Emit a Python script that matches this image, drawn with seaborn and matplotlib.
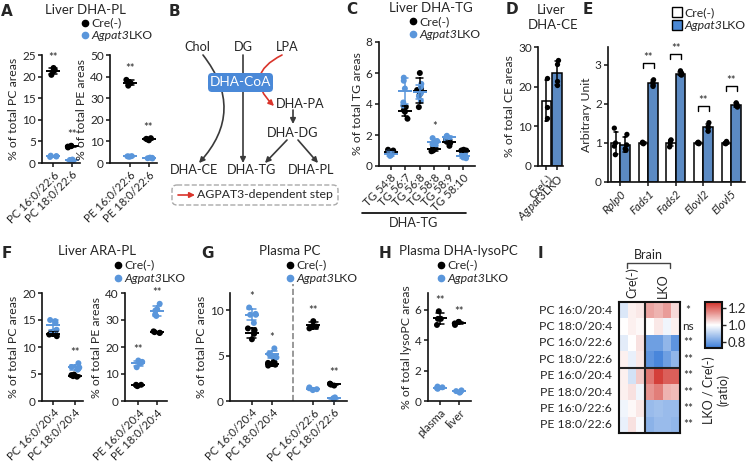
import numpy as np
import pandas as pd
import matplotlib
matplotlib.use('Agg')
import matplotlib.pyplot as plt
from matplotlib.lines import Line2D
from matplotlib.patches import Rectangle, FancyBboxPatch, FancyArrowPatch
from matplotlib.colors import LinearSegmentedColormap
import seaborn as sns
import warnings

warnings.filterwarnings("ignore")

sns.set_style('ticks')
plt.rcParams['font.family'] = ['Lato', 'DejaVu Sans']
plt.rcParams['mathtext.fontset'] = 'custom'
plt.rcParams['mathtext.rm'] = 'Lato'
plt.rcParams['mathtext.it'] = 'Lato:italic'
plt.rcParams['font.size'] = 8
plt.rcParams['axes.linewidth'] = 1.2
plt.rcParams['axes.edgecolor'] = '#111111'
plt.rcParams['xtick.major.width'] = 1.2
plt.rcParams['ytick.major.width'] = 1.2
plt.rcParams['xtick.major.size'] = 3
plt.rcParams['ytick.major.size'] = 3
plt.rcParams['xtick.major.pad'] = 1.5
plt.rcParams['ytick.major.pad'] = 1.5
plt.rcParams['xtick.labelsize'] = 8.2
plt.rcParams['ytick.labelsize'] = 8.5
plt.rcParams['axes.labelsize'] = 8.8
np.random.seed(3)

BLUE = '#5A96DB'
BAR_BLUE = '#4A88D4'
GROUPS = ['Cre(-)', 'Agpat3LKO']
GROUP_TEXT = ['Cre(-)', r'$\mathit{Agpat3}$LKO']
TITLE_FS = 9.5
LEG_FS = 8.8

# A: liver DHA-PL
a_pc_labels = ['PC 16:0/22:6', 'PC 18:0/22:6']
a_pc_cre = [[22.0, 21.5, 20.4, 21.2], [3.6, 4.0, 3.8, 3.9]]
a_pc_lko = [[1.5, 1.6, 1.4, 1.7], [0.5, 0.7, 0.6, 0.8]]
a_pc_stars = ['**', '**']
a_pe_labels = ['PE 16:0/22:6', 'PE 18:0/22:6']
a_pe_cre = [[38.5, 37.0, 35.8, 37.4], [10.5, 11.5, 11.0, 11.2]]
a_pe_lko = [[3.0, 3.2, 2.9, 3.1], [2.2, 2.4, 2.1, 2.5]]
a_pe_stars = ['**', '**']

# C: liver DHA-TG
c_labels = ['TG 54:8', 'TG 56:7', 'TG 56:8', 'TG 58:8', 'TG 58:9', 'TG 58:10']
c_cre = [[1.0, 0.9, 0.8, 1.05, 0.85], [3.9, 3.6, 3.5, 3.05, 3.8], [6.0, 4.9, 4.6, 3.8, 5.0],
         [1.2, 1.1, 1.0, 1.1, 0.95], [1.5, 1.6, 1.3, 1.7, 1.6], [1.0, 1.0, 0.95, 1.05, 0.9]]
c_lko = [[0.7, 0.8, 0.9, 0.65, 0.85], [5.7, 5.5, 5.0, 4.1, 3.9], [5.3, 5.1, 4.7, 4.5, 4.2],
         [1.8, 1.6, 1.4, 1.3, 1.5], [1.95, 1.9, 1.7, 1.85, 1.8], [0.7, 0.5, 0.6, 0.8, 0.55]]
c_stars = ['', '', '', '*', '', '']

# D: liver DHA-CE
d_cre = [22.3, 14.9, 12.2]
d_lko = [26.6, 25.6, 21.4, 20.4]

# E: gene expression
e_genes = ['Rplp0', 'Fads1', 'Fads2', 'Elovl2', 'Elovl5']
e_cre = [[1.38, 0.92, 0.70, 1.0], [1.02, 0.98, 1.0, 1.0], [1.08, 1.05, 0.9, 0.98],
         [1.0, 1.0, 1.02, 0.98], [1.04, 0.98, 1.0, 0.99]]
e_lko = [[1.22, 0.95, 0.82, 0.85], [2.62, 2.5, 2.45, 2.55], [2.85, 2.75, 2.78, 2.74],
         [1.52, 1.38, 1.30, 1.42], [2.03, 1.98, 1.92, 1.95]]
e_stars = ['', '**', '**', '**', '**']

# F: liver ARA-PL
f_pc_labels = ['PC 16:0/20:4', 'PC 18:0/20:4']
f_pc_cre = [[12.3, 12.0, 12.6, 13.0], [4.5, 4.8, 4.6, 4.9]]
f_pc_lko = [[15.0, 14.8, 13.2, 14.5, 12.8], [7.0, 6.3, 6.0, 5.8, 6.2]]
f_pc_stars = ['', '**']
f_pe_labels = ['PE 16:0/20:4', 'PE 18:0/20:4']
f_pe_cre = [[5.5, 6.0, 5.8, 6.0], [25.3, 25.8, 25.5, 25.2]]
f_pe_lko = [[14.5, 14.0, 15.0, 12.5, 14.2], [36.0, 33.5, 32.0, 31.5, 34.0]]
f_pe_stars = ['**', '**']

# G: plasma PC
g_labels = ['PC 16:0/20:4', 'PC 18:0/20:4', 'PC 16:0/22:6', 'PC 18:0/22:6']
g_cre = [[8.0, 7.8, 6.8, 7.4], [4.4, 4.0, 4.2, 3.9], [8.8, 8.2, 8.0, 8.3], [1.9, 1.7, 1.9, 1.8]]
g_lko = [[10.3, 9.5, 8.6, 9.5, 9.6], [5.8, 5.0, 4.9, 5.2, 4.8], [1.4, 1.3, 1.2, 1.5], [0.3, 0.2, 0.3, 0.4]]
g_stars = ['*', '*', '**', '**']

# H: plasma DHA-lysoPC
h_labels = ['plasma', 'liver']
h_cre = [[5.9, 5.4, 5.0, 5.4], [5.2, 5.1, 5.0, 5.2]]
h_lko = [[0.9, 0.85, 0.95, 0.8], [0.65, 0.6, 0.7, 0.55]]
h_stars = ['**', '**']

# I: brain heatmap (LKO / Cre ratio)
i_rows = ['PC 16:0/20:4', 'PC 18:0/20:4', 'PC 16:0/22:6', 'PC 18:0/22:6',
          'PE 16:0/20:4', 'PE 18:0/20:4', 'PE 16:0/22:6', 'PE 18:0/22:6']
i_ratio = [[0.95, 1.02, 1.03, 1.12, 1.10, 1.13, 1.05],
           [1.00, 1.02, 1.01, 1.00, 1.03, 0.98, 1.02],
           [0.96, 1.00, 1.04, 0.80, 0.80, 0.85, 0.78],
           [1.02, 0.97, 1.03, 0.78, 0.75, 0.80, 0.85],
           [1.02, 0.94, 1.07, 1.18, 1.25, 1.21, 1.21],
           [1.02, 1.04, 0.98, 1.14, 1.17, 1.10, 1.09],
           [0.98, 1.01, 1.03, 0.86, 0.87, 0.86, 0.86],
           [0.97, 1.04, 0.99, 0.84, 0.86, 0.86, 0.85]]
i_sig = ['*', 'ns', '**', '**', '**', '**', '**', '**']

W, H = 748, 465
fig = plt.figure(figsize=(W / 100, H / 100), dpi=100)
renderer = fig.canvas.get_renderer()


def box(l, t, r, b):
    return [l / W, 1 - b / H, (r - l) / W, (b - t) / H]


def ftext(x, y, s, **kw):
    return fig.text(x / W, 1 - y / H, s, **kw)


def fline(xs, ys, **kw):
    fig.add_artist(Line2D([x / W for x in xs], [1 - y / H for y in ys], **kw))


def group_label(x, y, idx, fs):
    # "Agpat3" in italics followed by upright "LKO"
    if idx == 0:
        ftext(x, y, GROUPS[0], ha='left', va='center', fontsize=fs)
        return
    t = ftext(x, y, 'Agpat3', ha='left', va='center', fontsize=fs, fontstyle='italic')
    w = t.get_window_extent(renderer).width
    ftext(x + w + 0.3, y, 'LKO', ha='left', va='center', fontsize=fs)


def long_table(cre, lko, pos):
    rows = []
    for i in range(len(cre)):
        for v in cre[i]:
            rows.append((pos[i], GROUPS[0], v))
        for v in lko[i]:
            rows.append((pos[i], GROUPS[1], v))
    return pd.DataFrame(rows, columns=['pos', 'group', 'value'])


def dot_panel(rect, labels, cre, lko, ylim, yticks, xlim, ylabel, stars, pos=None):
    ax = fig.add_axes(box(*rect))
    if pos is None:
        pos = list(range(len(labels)))
    df = long_table(cre, lko, pos)
    pal = {GROUPS[0]: 'black', GROUPS[1]: BLUE}
    sns.stripplot(data=df, x='pos', y='value', hue='group', hue_order=GROUPS, palette=pal,
                  native_scale=True, jitter=0.22, size=4.3, linewidth=0, ax=ax,
                  legend=False, clip_on=False, zorder=2)
    sns.pointplot(data=df, x='pos', y='value', hue='group', hue_order=GROUPS, palette=pal,
                  native_scale=True, errorbar='sd', markers='_', linestyles='none',
                  capsize=0.45, err_kws={'linewidth': 1.1}, markersize=10,
                  markeredgewidth=1.4, ax=ax, legend=False)
    sns.despine(ax=ax)
    ax.set_ylim(*ylim)
    ax.set_yticks(yticks)
    ax.set_xlim(*xlim)
    ax.set_xticks(pos)
    ax.set_xticklabels(labels, rotation=45, ha='right', rotation_mode='anchor')
    ax.set_xlabel('')
    ax.set_ylabel(ylabel, labelpad=2)
    for i, s in enumerate(stars):
        if s:
            top = max(cre[i] + lko[i])
            ax.text(pos[i], top + 0.05 * ylim[1], s, ha='center', va='bottom', fontsize=8)
    return ax


def dot_legend(mx, y1, y2):
    for idx, (c, y) in enumerate(zip(['black', BLUE], [y1, y2])):
        fig.add_artist(Line2D([mx / W], [1 - y / H], ls='none', marker='o', ms=4.5, color=c))
        group_label(mx + 6, y, idx, LEG_FS)


# ---------- A ----------
dot_panel((42, 55, 80, 163), a_pc_labels, a_pc_cre, a_pc_lko, (0, 25), [0, 5, 10, 15, 20, 25],
          (-0.6, 1.45), '% of total PC areas', a_pc_stars)
dot_panel((110, 55, 157, 163), a_pe_labels, a_pe_cre, a_pe_lko, (0, 50), [0, 10, 20, 30, 40, 50],
          (-1.1, 1.46), '% of total PE areas', a_pe_stars)
ftext(85, 10.5, 'Liver DHA-PL', ha='center', va='center', fontsize=TITLE_FS)
dot_legend(85, 23, 35.5)

# ---------- B (schematic) ----------
axB = fig.add_axes(box(170, 30, 345, 212))
axB.set_xlim(170, 345)
axB.set_ylim(212, 30)
axB.axis('off')
dark = '#3a3a3a'
red = '#D9342B'


def arrow(p0, p1, color=dark, rad=0.0):
    axB.add_patch(FancyArrowPatch(p0, p1, arrowstyle='-|>', mutation_scale=8, lw=1.2,
                                  color=color, connectionstyle=f'arc3,rad={rad}',
                                  shrinkA=0, shrinkB=0, zorder=1))


for name, (x, y) in {'Chol': (197, 47), 'DG': (243, 47), 'LPA': (287, 47),
                     'DHA-PA': (300, 104), 'DHA-DG': (293, 133), 'DHA-CE': (194, 170),
                     'DHA-TG': (252, 170), 'DHA-PL': (311, 170)}.items():
    axB.text(x, y, name, ha='center', va='center', fontsize=9.2)
arrow((203, 55), (199, 163), rad=-0.42)
arrow((243, 55), (243, 163))
arrow((282, 55), (274, 106), color=red, rad=0.7)
arrow((293, 110), (293, 124))
arrow((287, 140), (265, 163))
arrow((298, 140), (318, 163))
axB.add_patch(FancyBboxPatch((208, 73), 65, 19, boxstyle='round,pad=0,rounding_size=4',
                             fc='#4A89D8', ec='none', zorder=3))
axB.text(240.5, 82.5, 'DHA-CoA', color='white', ha='center', va='center', fontsize=9.8, zorder=4)
axB.add_patch(FancyBboxPatch((172, 185), 166, 20, boxstyle='round,pad=0,rounding_size=5',
                             fc='none', ec='#aaaaaa', ls='--', lw=1))
arrow((178, 195), (195, 195), color=red)
axB.text(197, 195, 'AGPAT3-dependent step', ha='left', va='center', fontsize=8.8)

# ---------- C ----------
dot_panel((379, 42, 475, 166), c_labels, c_cre, c_lko, (0, 8), [0, 2, 4, 6, 8],
          (-0.8, 5.8), '% of total TG areas', c_stars)
ftext(431, 8.5, 'Liver DHA-TG', ha='center', va='center', fontsize=TITLE_FS)
dot_legend(413, 21.5, 34)
fline([362, 466], [213, 213], color='black', lw=1.2)
ftext(414, 223, 'DHA-TG', ha='center', va='center', fontsize=9.2)

# ---------- D ----------
axD = fig.add_axes(box(538, 47, 563, 166))
dfD = pd.DataFrame({'group': [GROUPS[0]] * len(d_cre) + [GROUPS[1]] * len(d_lko),
                    'value': d_cre + d_lko})
sns.barplot(data=dfD, x='group', y='value', hue='group', order=GROUPS, hue_order=GROUPS,
            palette={GROUPS[0]: 'white', GROUPS[1]: BAR_BLUE}, edgecolor='black', linewidth=1.1,
            errorbar='sd', capsize=0.35, err_kws={'color': 'black', 'linewidth': 1.1},
            width=0.9, ax=axD, legend=False)
sns.stripplot(data=dfD, x='group', y='value', order=GROUPS, color='black', size=3.8,
              jitter=0.1, linewidth=0, ax=axD, zorder=3)
sns.despine(ax=axD)
axD.set_ylim(0, 30)
axD.set_yticks([0, 10, 20, 30])
axD.set_xlim(-0.8, 1.57)
axD.set_xticks([0, 1])
axD.set_xticklabels(GROUP_TEXT, rotation=45, ha='right', rotation_mode='anchor')
axD.set_xlabel('')
axD.set_ylabel('% of total CE areas', labelpad=2)
ftext(551, 10, 'Liver', ha='center', va='center', fontsize=TITLE_FS)
ftext(553, 25, 'DHA-CE', ha='center', va='center', fontsize=TITLE_FS)

# ---------- E ----------
axE = fig.add_axes(box(608, 47, 745, 182))
rows = []
for i, g in enumerate(e_genes):
    rows += [(g, GROUPS[0], v) for v in e_cre[i]] + [(g, GROUPS[1], v) for v in e_lko[i]]
dfE = pd.DataFrame(rows, columns=['gene', 'group', 'value'])
sns.barplot(data=dfE, x='gene', y='value', hue='group', order=e_genes, hue_order=GROUPS,
            palette={GROUPS[0]: 'white', GROUPS[1]: BAR_BLUE}, edgecolor='black', linewidth=1.1,
            errorbar='sd', capsize=0.3, err_kws={'color': 'black', 'linewidth': 1.1},
            width=0.68, ax=axE, legend=False)
sns.stripplot(data=dfE, x='gene', y='value', hue='group', order=e_genes, hue_order=GROUPS,
              palette={GROUPS[0]: 'black', GROUPS[1]: 'black'}, dodge=True, jitter=0.07,
              size=3.8, linewidth=0, ax=axE, legend=False, zorder=3)
sns.despine(ax=axE)
axE.set_ylim(0, 3.46)
axE.set_yticks([0, 1, 2, 3])
axE.set_xlim(-0.45, 4.5)
axE.set_xticks(range(len(e_genes)))
axE.set_xticklabels(e_genes, rotation=45, ha='right', rotation_mode='anchor', fontstyle='italic')
axE.set_xlabel('')
axE.set_ylabel('Arbitrary Unit', labelpad=2)
for i, s in enumerate(e_stars):
    if s:
        top = max(e_cre[i] + e_lko[i]) + 0.42
        axE.plot([i - 0.2, i - 0.2, i + 0.2, i + 0.2], [top - 0.13, top, top, top - 0.13],
                 color='black', lw=1)
        axE.text(i, top + 0.02, s, ha='center', va='bottom', fontsize=8)
for idx, (fc, y) in enumerate(zip(['white', BAR_BLUE], [12.5, 25.5])):
    fig.add_artist(Rectangle((672 / W, 1 - (y + 5) / H), 10 / W, 10 / H, fc=fc, ec='black',
                             lw=1, transform=fig.transFigure))
    group_label(684, y, idx, LEG_FS)

# ---------- F ----------
dot_panel((42, 293, 83, 401), f_pc_labels, f_pc_cre, f_pc_lko, (0, 20), [0, 5, 10, 15, 20],
          (-0.53, 1.38), '% of total PC areas', f_pc_stars)
dot_panel((125, 293, 167, 401), f_pe_labels, f_pe_cre, f_pe_lko, (0, 40), [0, 10, 20, 30, 40],
          (-0.73, 1.55), '% of total PE areas', f_pe_stars)
ftext(97, 251, 'Liver ARA-PL', ha='center', va='center', fontsize=TITLE_FS)
dot_legend(118, 265, 278)

# ---------- G ----------
axG = dot_panel((230, 293, 347, 401), g_labels, g_cre, g_lko, (0, 11.9), [0, 5, 10],
                (-1.05, 4.64), '% of total PC areas', g_stars, pos=[0, 1, 3, 4])
axG.axvline(2, ymax=1.08, color='#888888', ls='--', lw=1.2, clip_on=False)
ftext(290, 251, 'Plasma PC', ha='center', va='center', fontsize=TITLE_FS)
dot_legend(290, 265, 278)

# ---------- H ----------
dot_panel((428, 293, 471, 401), h_labels, h_cre, h_lko, (0, 7.1), [0, 2, 4, 6],
          (-0.62, 1.63), '% of total lysoPC areas', h_stars)
ftext(458, 251, 'Plasma DHA-lysoPC', ha='center', va='center', fontsize=TITLE_FS)
dot_legend(441, 265, 278)

# ---------- I ----------
axI = fig.add_axes(box(619, 302, 680, 433))
cax = fig.add_axes(box(705, 302, 722, 348))
cmap = LinearSegmentedColormap.from_list('ratio', ['#3B7DD8', '#FFFFFF', '#D1322B'])
sns.heatmap(np.array(i_ratio), ax=axI, cbar_ax=cax, cmap=cmap, vmin=0.73, vmax=1.27, center=1.0,
            xticklabels=False, yticklabels=i_rows, cbar_kws={'ticks': [0.8, 1.0, 1.2]})
axI.tick_params(left=False, labelsize=8.8, pad=2)
axI.set_yticklabels(i_rows, rotation=0)
for sp in axI.spines.values():
    sp.set_visible(True)
    sp.set_linewidth(1.5)
axI.axhline(4, color='#222222', lw=1.5)
axI.axvline(3, color='#222222', lw=1.5)
for i, s in enumerate(i_sig):
    axI.text(7.9, i + 0.5, s, ha='center', va='center', fontsize=8.5)
cbar = axI.collections[0].colorbar
cbar.outline.set_linewidth(1.5)
cax.tick_params(labelsize=9.5, length=3, width=1, pad=1)
cax.set_yticklabels(['0.8', '1.0', '1.2'])
ftext(716, 390, 'LKO / Cre(-)\n(ratio)', rotation=90, ha='center', va='center',
      fontsize=9, multialignment='center')
ftext(632, 298, 'Cre(-)', rotation=90, ha='center', va='bottom', fontsize=9)
ftext(662.5, 298, 'LKO', rotation=90, ha='center', va='bottom', fontsize=9)
fline([627, 627, 670, 670], [268, 263, 263, 268], color='#444444', lw=1)
ftext(648, 255, 'Brain', ha='center', va='center', fontsize=9)

# panel letters
for letter, (x, y) in {'A': (7, 11), 'B': (174, 11), 'C': (352, 10), 'D': (512, 10),
                       'E': (588, 10), 'F': (7, 253), 'G': (207, 253), 'H': (385, 253),
                       'I': (540, 253)}.items():
    ftext(x, y, letter, ha='center', va='center', fontsize=11, fontweight='bold',
          family='DejaVu Sans')

fig.savefig('out.png', dpi=100)
